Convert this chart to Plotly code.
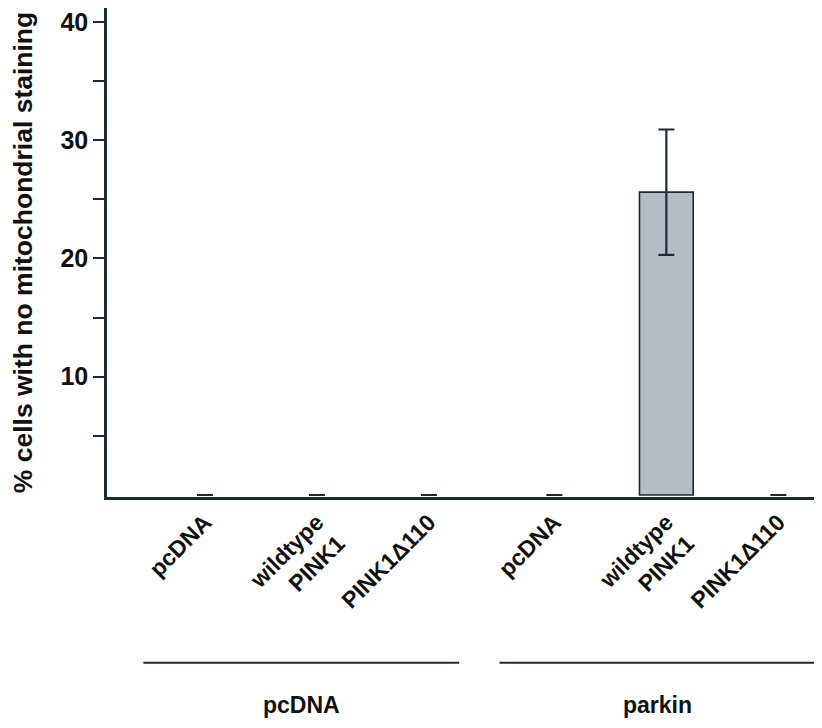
import plotly.graph_objects as go

# ---- data ----
categories = ["pcDNA", "wildtype<br>PINK1", "PINK1Δ110", "pcDNA", "wildtype<br>PINK1", "PINK1Δ110"]
x_pos = [0, 1, 2, 3.12, 4.12, 5.12]
means = [0, 0, 0, 0, 25.6, 0]
errors = [0, 0, 0, 0, 5.3, 0]
groups = ["pcDNA", "parkin"]
group_spans = [(-0.55, 2.27), (2.63, 5.45)]
y_ticks = [10, 20, 30, 40]
y_minor = [5, 15, 25, 35]

DARK = "#1b2b35"
FONT = "Liberation Sans, Arial, sans-serif"

fig = go.Figure()
fig.add_trace(go.Bar(
    x=x_pos, y=means, width=0.48,
    marker=dict(color="#b6bcc4",
                line=dict(color=DARK, width=[1.6 if m > 0 else 0 for m in means])),
    error_y=dict(type="data", array=errors, visible=True, color=DARK, thickness=2.2, width=8),
    showlegend=False,
))

shapes = []
annotations = []
for name, (a, b) in zip(groups, group_spans):
    shapes.append(dict(type="line", xref="x", yref="paper", x0=a, x1=b, y0=-0.339, y1=-0.339,
                       line=dict(color=DARK, width=2)))
    annotations.append(dict(xref="x", yref="paper", x=(a + b) / 2, y=-0.425, text="<b>%s</b>" % name,
                            showarrow=False, font=dict(family=FONT, size=23, color="#111111"),
                            xanchor="center", yanchor="middle"))

fig.update_layout(
    width=822, height=728,
    margin=dict(l=99, r=8, t=0, b=239),
    paper_bgcolor="white", plot_bgcolor="white",
    font=dict(family=FONT, color="#111111"),
    shapes=shapes, annotations=annotations,
    xaxis=dict(
        range=[-0.875, 5.51], showline=True, linecolor=DARK, linewidth=2.5,
        showgrid=False, zeroline=False, ticks="", automargin=False,
        tickvals=x_pos, ticktext=["<b>%s</b>" % c for c in categories],
        tickangle=-45, tickfont=dict(family=FONT, size=23, color="#111111"),
    ),
    yaxis=dict(
        range=[-0.17, 41.17], showline=True, linecolor=DARK, linewidth=2.5,
        showgrid=False, zeroline=False, automargin=False, ticklabeloverflow="allow",
        tickvals=y_ticks, ticktext=["<b>%d</b>" % v for v in y_ticks],
        ticks="outside", ticklen=11, tickwidth=1.8, tickcolor=DARK,
        tickfont=dict(family=FONT, size=25, color="#111111"),
        minor=dict(tickvals=y_minor, ticks="outside", ticklen=11, tickwidth=1.8, tickcolor=DARK),
        title=dict(text="<b>% cells with no mitochondrial staining</b>",
                   font=dict(family=FONT, size=26.5, color="#111111"), standoff=30),
    ),
)

fig.write_html("out.html")
